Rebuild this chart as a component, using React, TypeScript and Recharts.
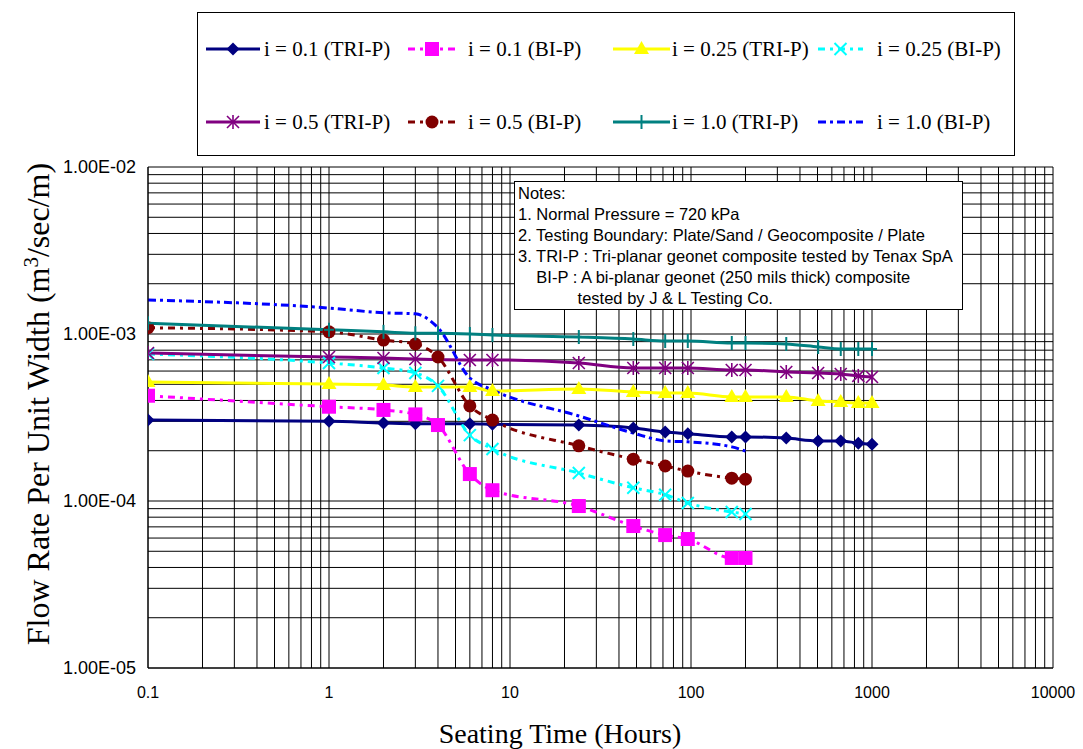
import React from 'react';
import { LineChart, Line, XAxis, YAxis, CartesianGrid } from 'recharts';

// seating time (hours) at which each test was read
const triHours = [0.1, 1, 2, 3, 6, 8, 24, 48, 72, 96, 168, 200, 336, 504, 672, 840, 1000];
const triHoursTeal = [0.1, 1, 2, 3, 4, 6, 8, 24, 48, 72, 96, 168, 200, 336, 504, 672, 840, 1000];
const biHours = [0.1, 1, 2, 3, 4, 6, 8, 24, 48, 72, 96, 168, 200];

// flow rate per unit width (m3/sec/m)
const i01Tri = [3.05e-4, 3.0e-4, 2.93e-4, 2.9e-4, 2.9e-4, 2.88e-4, 2.85e-4, 2.74e-4, 2.59e-4, 2.53e-4, 2.42e-4, 2.42e-4, 2.38e-4, 2.29e-4, 2.29e-4, 2.22e-4, 2.19e-4];
const i01Bi = [4.27e-4, 3.67e-4, 3.51e-4, 3.3e-4, 2.85e-4, 1.45e-4, 1.16e-4, 9.33e-5, 7.08e-5, 6.25e-5, 5.92e-5, 4.56e-5, 4.56e-5];
const i025Tri = [5.16e-4, 5.02e-4, 4.95e-4, 4.82e-4, 4.82e-4, 4.56e-4, 4.69e-4, 4.49e-4, 4.43e-4, 4.43e-4, 4.2e-4, 4.2e-4, 4.2e-4, 3.97e-4, 3.92e-4, 3.86e-4, 3.86e-4];
const i025Bi = [7.59e-4, 6.7e-4, 6.26e-4, 5.84e-4, 4.89e-4, 2.48e-4, 2.05e-4, 1.47e-4, 1.2e-4, 1.09e-4, 9.73e-5, 8.59e-5, 8.36e-5];
const i05Tri = [7.69e-4, 7.28e-4, 7.18e-4, 7.08e-4, 6.99e-4, 6.99e-4, 6.7e-4, 6.26e-4, 6.26e-4, 6.26e-4, 6.09e-4, 6.09e-4, 5.92e-4, 5.84e-4, 5.76e-4, 5.61e-4, 5.53e-4];
const i05Bi = [1.09e-3, 1.03e-3, 9.2e-4, 8.71e-4, 7.28e-4, 3.71e-4, 3.05e-4, 2.14e-4, 1.78e-4, 1.62e-4, 1.51e-4, 1.37e-4, 1.35e-4];
const i10Tri = [1.16e-3, 1.06e-3, 1.03e-3, 1.01e-3, 1.01e-3, 1.0e-3, 9.86e-4, 9.59e-4, 9.33e-4, 9.08e-4, 9.08e-4, 8.83e-4, 8.83e-4, 8.71e-4, 8.36e-4, 8.13e-4, 8.13e-4, 8.13e-4];
const i10Bi = [1.6e-3, 1.43e-3, 1.34e-3, 1.32e-3, 1.09e-3, 5.45e-4, 4.62e-4, 3.23e-4, 2.55e-4, 2.29e-4, 2.26e-4, 2.11e-4, 1.99e-4];

const xMajor = [0.1, 1, 10, 100, 1000, 10000];
const yMajor = [1e-5, 1e-4, 1e-3, 1e-2];
const minorSteps = [2, 3, 4, 5, 6, 7, 8, 9];

const notes = [
  'Notes:',
  '1. Normal Pressure = 720 kPa',
  '2. Testing Boundary: Plate/Sand / Geocomposite / Plate',
  '3. TRI-P : Tri-planar geonet composite tested by Tenax SpA',
  '    BI-P : A bi-planar geonet (250 mils thick) composite',
  '             tested by J & L Testing Co.',
];

const withMinors = (majors: number[]) => {
  const out: number[] = [];
  majors.forEach((m, i) => {
    out.push(m);
    if (i < majors.length - 1) minorSteps.forEach(s => out.push(m * s));
  });
  return out;
};
const xTicks = withMinors(xMajor);
const yTicks = withMinors(yMajor);

const fmtY = (v: number) => {
  if (!yMajor.includes(v)) return '';
  const e = Math.round(Math.log10(v));
  const sign = e < 0 ? '-' : '+';
  return `1.00E${sign}${String(Math.abs(e)).padStart(2, '0')}`;
};
const fmtX = (v: number) => (xMajor.includes(v) ? String(v) : '');

type MarkerKind = 'diamond' | 'square' | 'triangle' | 'x' | 'star' | 'circle' | 'plus' | 'none';

function Marker({ kind, cx, cy, color }: { kind: MarkerKind; cx: number; cy: number; color: string }) {
  switch (kind) {
    case 'diamond':
      return <polygon points={`${cx},${cy - 6.5} ${cx + 6.5},${cy} ${cx},${cy + 6.5} ${cx - 6.5},${cy}`} fill={color} />;
    case 'square':
      return <rect x={cx - 7} y={cy - 7} width={14} height={14} fill={color} />;
    case 'triangle':
      return <polygon points={`${cx},${cy - 8} ${cx + 7.5},${cy + 5} ${cx - 7.5},${cy + 5}`} fill={color} />;
    case 'x':
      return (
        <g stroke={color} strokeWidth={2}>
          <line x1={cx - 6} y1={cy - 6} x2={cx + 6} y2={cy + 6} />
          <line x1={cx - 6} y1={cy + 6} x2={cx + 6} y2={cy - 6} />
        </g>
      );
    case 'star':
      return (
        <g stroke={color} strokeWidth={1.6}>
          <line x1={cx - 6} y1={cy - 6} x2={cx + 6} y2={cy + 6} />
          <line x1={cx - 6} y1={cy + 6} x2={cx + 6} y2={cy - 6} />
          <line x1={cx} y1={cy - 7} x2={cx} y2={cy + 7} />
        </g>
      );
    case 'circle':
      return <circle cx={cx} cy={cy} r={6.5} fill={color} />;
    case 'plus':
      return (
        <g stroke={color} strokeWidth={2}>
          <line x1={cx} y1={cy - 7} x2={cx} y2={cy + 7} />
          <line x1={cx - 5} y1={cy} x2={cx + 5} y2={cy} />
        </g>
      );
    default:
      return null;
  }
}

const build = (hours: number[], vals: number[]) => hours.map((x, i) => ({ x, y: vals[i] }));

const series = [
  { name: 'i = 0.1 (TRI-P)', data: build(triHours, i01Tri), color: '#000080', dash: undefined, marker: 'diamond' as MarkerKind },
  { name: 'i = 0.1 (BI-P)', data: build(biHours, i01Bi), color: '#FF00FF', dash: '7 5 3 5', marker: 'square' as MarkerKind },
  { name: 'i = 0.25 (TRI-P)', data: build(triHours, i025Tri), color: '#FFFF00', dash: undefined, marker: 'triangle' as MarkerKind },
  { name: 'i = 0.25 (BI-P)', data: build(biHours, i025Bi), color: '#00FFFF', dash: '7 5 3 5', marker: 'x' as MarkerKind },
  { name: 'i = 0.5 (TRI-P)', data: build(triHours, i05Tri), color: '#800080', dash: undefined, marker: 'star' as MarkerKind },
  { name: 'i = 0.5 (BI-P)', data: build(biHours, i05Bi), color: '#800000', dash: '7 5 3 5', marker: 'circle' as MarkerKind },
  { name: 'i = 1.0 (TRI-P)', data: build(triHoursTeal, i10Tri), color: '#008080', dash: undefined, marker: 'plus' as MarkerKind },
  { name: 'i = 1.0 (BI-P)', data: build(biHours, i10Bi), color: '#0000FF', dash: '8 4 3 4', marker: 'none' as MarkerKind },
];

// legend item positions: [line start, line end, text start]
const legendCols = [
  [8, 62, 66],
  [210, 258, 270],
  [415, 472, 474],
  [620, 665, 679],
];
const legendRows = [36, 109];

export default function App() {
  return (
    <div style={{ position: 'absolute', left: 0, top: 0, width: 1083, height: 749, background: '#fff' }}>
      <LineChart width={1083} height={749} margin={{ top: 167, right: 30, bottom: 0, left: 0 }}>
        <CartesianGrid stroke="#000" strokeWidth={1} />
        <XAxis
          type="number"
          dataKey="x"
          scale="log"
          domain={[0.1, 10000]}
          ticks={xTicks}
          interval={0}
          allowDataOverflow
          tickFormatter={fmtX}
          tickLine={false}
          tickSize={0}
          tickMargin={19}
          height={81}
          axisLine={{ stroke: '#000' }}
          tick={{ fill: '#000', fontSize: 16, fontFamily: 'Liberation Sans, Arial, sans-serif' }}
        />
        <YAxis
          type="number"
          scale="log"
          domain={[1e-5, 1e-2]}
          ticks={yTicks}
          interval={0}
          allowDataOverflow
          tickFormatter={fmtY}
          tickLine={false}
          tickSize={0}
          tickMargin={12}
          width={148}
          axisLine={{ stroke: '#000' }}
          tick={{ fill: '#000', fontSize: 18, fontFamily: 'Liberation Sans, Arial, sans-serif' }}
        />
        {series.map(s => (
          <Line
            key={s.name}
            data={s.data}
            dataKey="y"
            name={s.name}
            type="monotone"
            stroke={s.color}
            strokeWidth={3}
            strokeDasharray={s.dash}
            isAnimationActive={false}
            activeDot={false}
            dot={(p: any) => (
              <Marker key={`${s.name}-${p.index}`} kind={s.marker} cx={p.cx} cy={p.cy} color={s.color} />
            )}
          />
        ))}
      </LineChart>

      {/* legend */}
      <div
        style={{
          position: 'absolute', left: 197, top: 12, width: 816, height: 142,
          border: '1px solid #000', background: '#fff',
        }}
      >
        {series.map((s, i) => {
          const [x0, x1, tx] = legendCols[i % 4];
          const cy = legendRows[Math.floor(i / 4)];
          return (
            <React.Fragment key={s.name}>
              <svg style={{ position: 'absolute', left: 0, top: 0, overflow: 'visible' }} width={1} height={1}>
                <line x1={x0} y1={cy} x2={x1} y2={cy} stroke={s.color} strokeWidth={3} strokeDasharray={s.dash} />
                <Marker kind={s.marker} cx={(x0 + x1) / 2} cy={cy} color={s.color} />
              </svg>
              <div
                style={{
                  position: 'absolute', left: tx, top: cy - 13, fontFamily: 'Liberation Serif, Times New Roman, serif',
                  fontSize: 21, lineHeight: '26px', whiteSpace: 'nowrap', color: '#000',
                }}
              >
                {s.name}
              </div>
            </React.Fragment>
          );
        })}
      </div>

      {/* notes box */}
      <div
        style={{
          position: 'absolute', left: 514, top: 181, width: 449, height: 129,
          border: '1px solid #000', background: '#fff', padding: '1px 0 0 3px', boxSizing: 'border-box',
          fontFamily: 'Liberation Sans, Arial, sans-serif', fontSize: 16.5, lineHeight: '21px', color: '#000',
        }}
      >
        {notes.map(n => (
          <div key={n} style={{ whiteSpace: 'pre' }}>{n}</div>
        ))}
      </div>

      {/* axis titles */}
      <div
        style={{
          position: 'absolute', left: 560, top: 734, transform: 'translate(-50%, -50%)',
          fontFamily: 'Liberation Serif, Times New Roman, serif', fontSize: 28, whiteSpace: 'nowrap', color: '#000',
        }}
      >
        Seating Time (Hours)
      </div>
      <div
        style={{
          position: 'absolute', left: 38, top: 404, transform: 'translate(-50%, -50%) rotate(-90deg)',
          fontFamily: 'Liberation Serif, Times New Roman, serif', fontSize: 32, whiteSpace: 'nowrap', color: '#000',
        }}
      >
        Flow Rate Per Unit Width (m<sup style={{ fontSize: 21 }}>3</sup>/sec/m)
      </div>
    </div>
  );
}
